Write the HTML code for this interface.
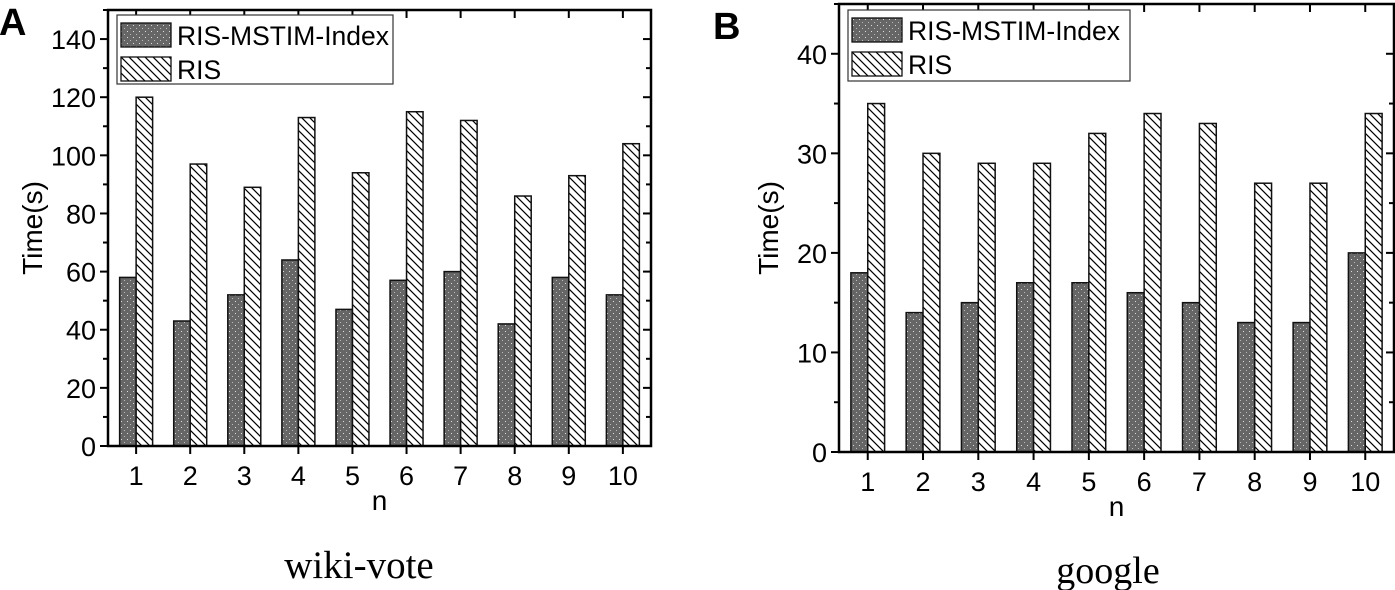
<!DOCTYPE html>
<html><head><meta charset="utf-8"><style>
html,body{margin:0;padding:0;background:#fff;width:1395px;height:590px;overflow:hidden}
svg{display:block;font-family:"Liberation Sans",Arial,sans-serif}
</style></head><body>
<svg id="chart" width="1395" height="590" viewBox="0 0 1395 590" xmlns="http://www.w3.org/2000/svg">
<defs>
<pattern id="dots" width="6" height="6" patternUnits="userSpaceOnUse">
<rect width="6" height="6" fill="#666"/><rect x="1" y="1" width="1" height="1" fill="#ddd"/><rect x="4" y="4" width="1" height="1" fill="#bbb"/>
</pattern>
<pattern id="hatch" width="8" height="8" patternUnits="userSpaceOnUse">
<rect width="8" height="8" fill="#fff"/><path d="M-2,-2 L10,10 M-2,6 L2,10 M6,-2 L10,2" stroke="#000" stroke-width="1.2"/>
</pattern>
</defs>
<g id="gA"></g>
<g id="gB"></g>
<text x="-1" y="35" font-size="38" font-weight="bold">A</text>
<text x="713" y="39" font-size="38" font-weight="bold">B</text>
<text x="359" y="578" font-size="39" text-anchor="middle" font-family="Liberation Serif,serif">wiki-vote</text>
<text x="1108" y="583" font-size="38" text-anchor="middle" font-family="Liberation Serif,serif">google</text>
</svg>
<script>
const categories = [1,2,3,4,5,6,7,8,9,10];
const wikiIndex = [58,43,52,64,47,57,60,42,58,52];
const wikiRIS = [120,97,89,113,94,115,112,86,93,104];
const wikiTicks = [0,20,40,60,80,100,120,140];
const googleIndex = [18,14,15,17,17,16,15,13,13,20];
const googleRIS = [35,30,29,29,32,34,33,27,27,34];
const googleTicks = [0,10,20,30,40];
const NS="http://www.w3.org/2000/svg";
function mk(p,tag,attrs){const e=document.createElementNS(NS,tag);for(const k in attrs)e.setAttribute(k,attrs[k]);p.appendChild(e);return e;}
function panel(g,cfg){
  const {L,R,T,B,ymax,ticks,minor,s1,s2,legend,nY,ylabX}=cfg;
  const n=categories.length;
  const step=(R-L)/(n+0.04); const pad=(R-L-step*(n-1))/2;
  const x=i=>L+pad+step*i;
  const y=v=>B-(v/ymax)*(B-T);
  const bw=step*0.305;
  for(let i=0;i<n;i++){
    const r1=mk(g,'rect',{x:x(i)-bw,y:y(s1[i]),width:bw,height:B-y(s1[i]),fill:'url(#dots)',stroke:'#111','stroke-width':1.5});
    
    
    const r2=mk(g,'rect',{x:x(i),y:y(s2[i]),width:bw,height:B-y(s2[i]),fill:'url(#hatch)',stroke:'#111','stroke-width':1.5});
    
    
  }
  const ax=mk(g,'rect',{x:L,y:T,width:R-L,height:B-T,fill:'none',stroke:'#000','stroke-width':2.5});
  
  
  for(let i=0;i<n;i++){
    mk(g,'line',{x1:x(i),x2:x(i),y1:B,y2:B+8,stroke:'#000','stroke-width':2});
    mk(g,'line',{x1:x(i),x2:x(i),y1:T,y2:T+8,stroke:'#000','stroke-width':2});
    const t=mk(g,'text',{x:x(i),y:B+39,'font-size':27,'text-anchor':'middle'});
    t.textContent=categories[i];
    
    
  }
  for(let v=0;v<=ymax;v+=minor){
    const major=ticks.includes(v);
    mk(g,'line',{x1:L-(major?8:5),x2:L,y1:y(v),y2:y(v),stroke:'#000','stroke-width':2});
    mk(g,'line',{x1:R,x2:R-(major?8:5),y1:y(v),y2:y(v),stroke:'#000','stroke-width':2});
  }
  ticks.forEach(v=>{
    const t=mk(g,'text',{x:L-12,y:y(v)+10,'font-size':27,'text-anchor':'end'});
    t.textContent=v;
    
    
  });
  const yl=mk(g,'text',{x:ylabX,y:(T+B)/2,'font-size':28,'text-anchor':'middle',transform:`rotate(-90 ${ylabX} ${(T+B)/2})`});
  yl.textContent='Time(s)';
  
  
  const xl=mk(g,'text',{x:(L+R)/2,y:nY,'font-size':28,'text-anchor':'middle'});
  xl.textContent='n';
  
  
  const lg=mk(g,'g',{});
  
  
  const [lx,ly,lw,lh]=legend;
  mk(lg,'rect',{x:lx,y:ly,width:lw,height:lh,fill:'#fff',stroke:'#333','stroke-width':1.2});
  mk(lg,'rect',{x:lx+4,y:ly+8,width:50,height:24,fill:'url(#dots)',stroke:'#111','stroke-width':1.3});
  mk(lg,'rect',{x:lx+4,y:ly+42,width:50,height:24,fill:'url(#hatch)',stroke:'#111','stroke-width':1.3});
  const t1=mk(lg,'text',{x:lx+60,y:ly+30,'font-size':26.5});t1.textContent='RIS-MSTIM-Index';
  
  
  const t2=mk(lg,'text',{x:lx+60,y:ly+64,'font-size':26.5});t2.textContent='RIS';
  
  
}
panel(document.getElementById('gA'),{L:108,R:651,T:10,B:446,ymax:150,ticks:wikiTicks,minor:10,s1:wikiIndex,s2:wikiRIS,legend:[117,15,276,69],nY:510,ylabX:42});
panel(document.getElementById('gB'),{L:839,R:1394,T:4,B:452,ymax:45,ticks:googleTicks,minor:5,s1:googleIndex,s2:googleRIS,legend:[848,10,282,71],nY:516,ylabX:778});
</script>
</body></html>
